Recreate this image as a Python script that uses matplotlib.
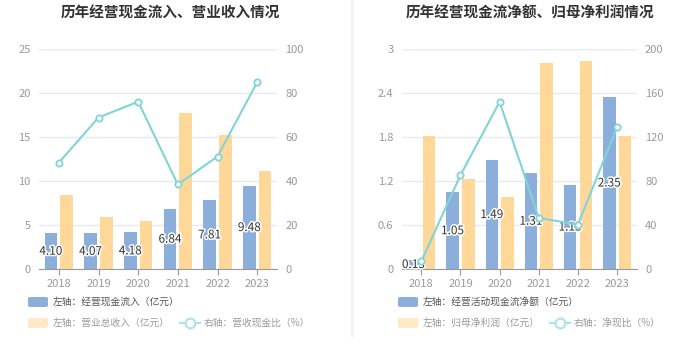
import numpy as np
import matplotlib
matplotlib.use("Agg")
import matplotlib.pyplot as plt
import matplotlib.patheffects as pe
from matplotlib.patches import FancyBboxPatch
from matplotlib.lines import Line2D

plt.rcParams['font.family'] = ['Noto Sans CJK SC', 'DejaVu Sans']

years = ['2018', '2019', '2020', '2021', '2022', '2023']

# left chart
cash_in = [4.10, 4.07, 4.18, 6.84, 7.81, 9.48]
revenue = [8.48, 5.91, 5.49, 17.76, 15.26, 11.17]
cash_ratio = [48.4, 68.9, 76.1, 38.5, 51.2, 84.9]

# right chart
net_cash = [0.13, 1.05, 1.49, 1.31, 1.15, 2.35]
net_profit = [1.82, 1.23, 0.98, 2.81, 2.83, 1.82]
net_ratio = [7.2, 85.4, 152.0, 46.6, 40.6, 129.1]

BLUE = '#8caedb'
ORANGE = '#ffd899'
CYAN = '#80d4d7'
GRID = '#e6eaf2'
TICK = '#999999'

fig = plt.figure(figsize=(7, 3.6), dpi=100)
W, H = 700, 360


def px(x, y):
    return x / W, 1 - y / H


def panel(left_px, right_px, bars1, bars2, line, ylim, yticks, ylim2, yticks2, ytl):
    x0, _ = px(left_px, 0)
    ax = fig.add_axes([x0, 1 - 269.3 / H, (right_px - left_px) / W, 220.3 / H])
    x = np.arange(len(years))
    ax.bar(x - 0.2, bars1, width=0.32, color=BLUE, zorder=2)
    ax.bar(x + 0.2, bars2, width=0.32, color=ORANGE, zorder=2)
    for xi, v in zip(x, bars1):
        ax.text(xi - 0.2, v / 2, f'{v:.2f}', ha='center', va='center', fontsize=8.5,
                color='#333333', zorder=3,
                path_effects=[pe.withStroke(linewidth=2.2, foreground='white')])
    ax.set_xlim(-0.5, len(years) - 0.5)
    ax.set_ylim(*ylim)
    ax.set_yticks(yticks)
    ax.set_yticklabels(ytl)
    ax.set_xticks(x)
    ax.set_xticklabels(years)
    ax.grid(axis='y', color=GRID, linewidth=1, zorder=0)
    for s in ['top', 'right', 'left']:
        ax.spines[s].set_visible(False)
    ax.spines['bottom'].set_color(TICK)
    ax.tick_params(axis='y', length=0, colors=TICK, labelsize=8, pad=6)
    ax.tick_params(axis='x', length=4, color=TICK, colors=TICK, labelsize=8, pad=3)

    ax2 = ax.twinx()
    ax2.plot(x, line, color=CYAN, linewidth=1.5, marker='o', markersize=4.5,
             markerfacecolor='white', markeredgecolor=CYAN, markeredgewidth=1.3, zorder=4)
    ax2.set_ylim(*ylim2)
    ax2.set_yticks(yticks2)
    for s in ax2.spines.values():
        s.set_visible(False)
    ax2.tick_params(axis='y', length=0, colors=TICK, labelsize=8, pad=6)
    return ax


def legend_item(x, y, color, text, tcolor):
    fx, fy = px(x, y + 5)
    fig.patches.append(FancyBboxPatch((fx, fy), 20 / W, 10 / H,
                                      boxstyle='round,pad=0,rounding_size=0.004',
                                      transform=fig.transFigure, facecolor=color,
                                      edgecolor='none'))
    tx, ty = px(x + 25, y)
    fig.text(tx, ty, text, fontsize=7, color=tcolor, va='center', ha='left')


def legend_line(x, y, text):
    x1, yy = px(x, y)
    x2, _ = px(x + 20, y)
    fig.add_artist(Line2D([x1, x2], [yy, yy], color='#aee3e4', linewidth=1.5,
                          transform=fig.transFigure))
    fig.add_artist(Line2D([(x1 + x2) / 2], [yy], marker='o', markersize=7,
                          markerfacecolor='white', markeredgecolor='#aee3e4',
                          markeredgewidth=1.5, transform=fig.transFigure))
    tx, ty = px(x + 24, y)
    fig.text(tx, ty, text, fontsize=7, color='#999999', va='center', ha='left')


panel(39, 277, cash_in, revenue, cash_ratio, (0, 25), [0, 5, 10, 15, 20, 25],
      (0, 100), [0, 20, 40, 60, 80, 100], ['0', '5', '10', '15', '20', '25'])
panel(401.7, 636.7, net_cash, net_profit, net_ratio, (0, 3), [0, 0.6, 1.2, 1.8, 2.4, 3],
      (0, 200), [0, 40, 80, 120, 160, 200], ['0', '0.6', '1.2', '1.8', '2.4', '3'])

fig.text(*px(170, 13), '历年经营现金流入、营业收入情况', fontsize=10.5, fontweight='bold',
         color='#333333', ha='center', va='center')
fig.text(*px(530, 13), '历年经营现金流净额、归母净利润情况', fontsize=10.5, fontweight='bold',
         color='#333333', ha='center', va='center')

# separator
fig.add_artist(Line2D([352 / W, 352 / W], [1, 1 - 335 / H], color='#f2f2f2',
                      linewidth=2, transform=fig.transFigure))

legend_item(28, 302, BLUE, '左轴：经营现金流入（亿元）', '#555555')
legend_item(28, 323, '#ffe8c4', '左轴：营业总收入（亿元）', '#999999')
legend_line(180, 323, '右轴：营收现金比（%）')

legend_item(398, 302, BLUE, '左轴：经营活动现金流净额（亿元）', '#555555')
legend_item(398, 323, '#ffe8c4', '左轴：归母净利润（亿元）', '#999999')
legend_line(550, 323, '右轴：净现比（%）')

fig.savefig('out.png', dpi=100)
